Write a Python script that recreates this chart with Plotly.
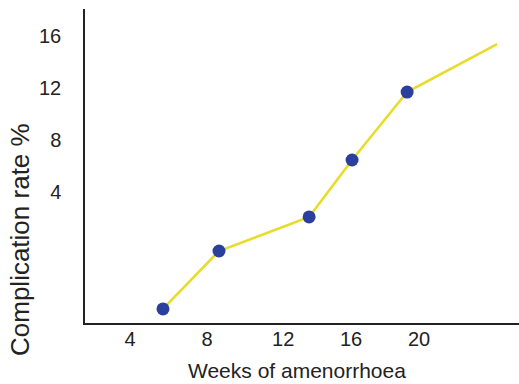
import plotly.graph_objects as go

# Complication rate by weeks of amenorrhoea (axis units)
weeks = [5.71, 8.62, 13.30, 15.53, 18.39, 23.06]
rate = [-5.0, -0.54, 2.08, 6.46, 11.69, 15.38]
# observed points carry markers; the last vertex is the trend extension
n_markers = 5

x_tick_pos = [4, 8, 11.95, 15.48, 19.01]
x_tick_text = ["4", "8", "12", "16", "20"]
y_tick_pos = [4, 8, 12, 16]
y_tick_text = ["4", "8", "12", "16"]

LINE = "#E8DC2A"
DOT = "#2B409C"
INK = "#222222"
FONT = "Liberation Sans, Arial, sans-serif"

fig = go.Figure()
fig.add_trace(go.Scatter(
    x=weeks, y=rate, mode="lines",
    line=dict(color=LINE, width=2.6),
    hoverinfo="skip", showlegend=False,
))
fig.add_trace(go.Scatter(
    x=weeks[:n_markers], y=rate[:n_markers], mode="markers",
    marker=dict(color=DOT, size=13, line=dict(width=0)),
    showlegend=False,
))

fig.update_layout(
    width=519, height=384,
    margin=dict(l=85, r=0, t=9, b=61),
    paper_bgcolor="white", plot_bgcolor="white",
    font=dict(family=FONT, color=INK, size=20),
    xaxis=dict(
        range=[1.66, 24.2], showgrid=False, zeroline=False,
        showline=True, linecolor=INK, linewidth=1.5,
        tickmode="array", tickvals=x_tick_pos, ticktext=x_tick_text,
        ticks="", ticklabelstandoff=-3,
        tickfont=dict(size=20),
    ),
    yaxis=dict(
        range=[-6.08, 18.08], showgrid=False, zeroline=False,
        showline=True, linecolor=INK, linewidth=1.5,
        tickmode="array", tickvals=y_tick_pos, ticktext=y_tick_text,
        ticks="", ticklabelstandoff=18,
        tickfont=dict(size=20),
    ),
    annotations=[
        dict(text="Weeks of amenorrhoea", xref="paper", yref="paper",
             x=(297 - 85) / 434, y=-(370 - 323) / 314,
             xanchor="center", yanchor="middle", showarrow=False,
             font=dict(size=21, family=FONT, color=INK)),
        dict(text="Complication rate %", xref="paper", yref="paper",
             x=-(85 - 20) / 434, y=(323 - 240) / 314, textangle=-90,
             xanchor="center", yanchor="middle", showarrow=False,
             font=dict(size=26, family=FONT, color=INK)),
    ],
)

fig.write_html("out.html")
